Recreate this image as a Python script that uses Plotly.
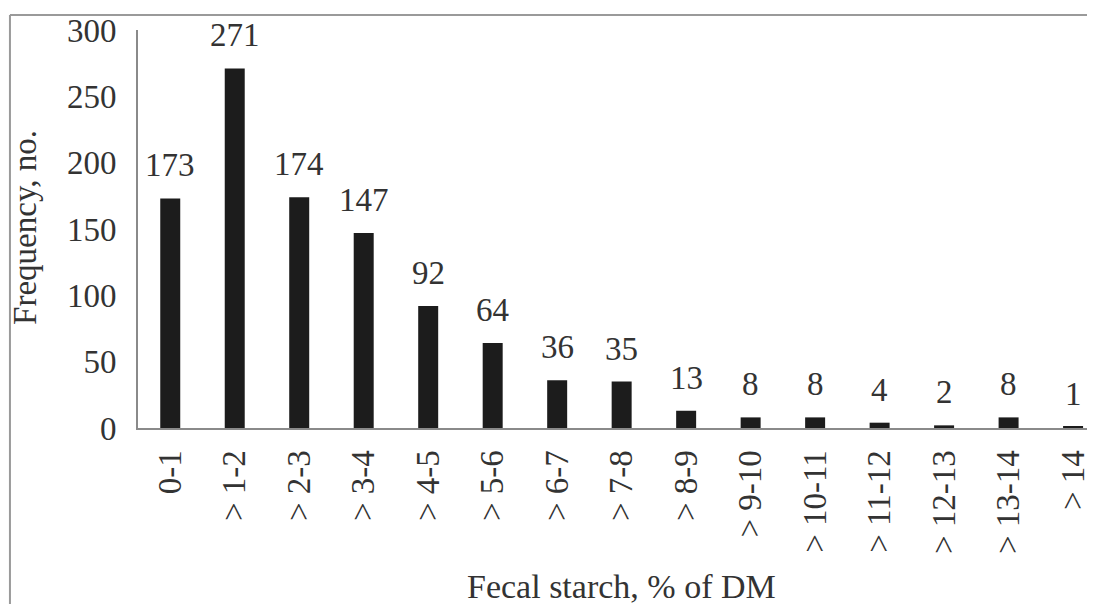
import plotly.graph_objects as go

categories = ["0-1", "> 1-2", "> 2-3", "> 3-4", "> 4-5", "> 5-6", "> 6-7", "> 7-8",
              "> 8-9", "> 9-10", "> 10-11", "> 11-12", "> 12-13", "> 13-14", "> 14"]
frequency = [173, 271, 174, 147, 92, 64, 36, 35, 13, 8, 8, 4, 2, 8, 1]
y_ticks = [0, 50, 100, 150, 200, 250, 300]

FONT = "Liberation Serif"
TXT = "#333333"
FS = 33

fig = go.Figure()
fig.add_trace(go.Bar(
    x=list(range(len(categories))), y=frequency,
    width=0.31, marker=dict(color="#1c1c1c", line=dict(width=0)),
    showlegend=False, hoverinfo="skip",
))

for i, v in enumerate(frequency):
    fig.add_annotation(x=i, y=v, text=str(v), showarrow=False, xref="x", yref="y",
                       yanchor="bottom", yshift=13,
                       font=dict(family=FONT, size=FS, color=TXT))

fig.update_layout(
    width=1087, height=596,
    margin=dict(l=130, r=0, t=22, b=176, pad=0),
    paper_bgcolor="white", plot_bgcolor="white",
    font=dict(family=FONT, size=FS, color=TXT),
    xaxis=dict(
        tickmode="array", tickvals=list(range(len(categories))), ticktext=categories,
        tickangle=-90, range=[-0.5, 14.34],
        showgrid=False, zeroline=False, showline=True, linecolor="#8a8a8a", linewidth=2,
        ticks="", ticklabelstandoff=7,
        tickfont=dict(family=FONT, size=FS, color=TXT),
    ),
    yaxis=dict(
        range=[0, 300], tickmode="array", tickvals=y_ticks,
        showgrid=False, zeroline=False, showline=True, linecolor="#8a8a8a", linewidth=2,
        ticks="", ticklabelstandoff=13,
        tickfont=dict(family=FONT, size=FS, color=TXT),
    ),
)

# Axis titles
fig.add_annotation(text="Fecal starch, % of DM", xref="paper", yref="paper",
                   x=0.505, y=-0.397, showarrow=False, xanchor="center", yanchor="middle",
                   font=dict(family=FONT, size=34, color=TXT))
fig.add_annotation(text="Frequency, no.", xref="paper", yref="paper",
                   x=-0.118, y=0.503, showarrow=False, textangle=-90,
                   xanchor="center", yanchor="middle",
                   font=dict(family=FONT, size=FS, color=TXT))

# Outer frame lines (top and left)
fig.add_shape(type="line", xref="paper", yref="paper", x0=-0.1338, x1=1.0,
              y0=1.0377, y1=1.0377, line=dict(color="#9a9a9a", width=2))
fig.add_shape(type="line", xref="paper", yref="paper", x0=-0.1338, x1=-0.1338,
              y0=1.0377, y1=-0.45, line=dict(color="#9a9a9a", width=2))

fig.write_html("out.html")
